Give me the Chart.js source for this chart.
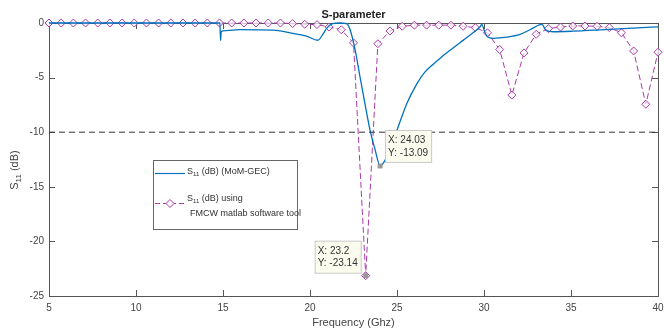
<!DOCTYPE html>
<html>
<head>
<meta charset="utf-8">
<script src="https://cdn.jsdelivr.net/npm/chart.js@4.4.1/dist/chart.umd.min.js"></script>
<style>
  html, body { margin: 0; padding: 0; background: #fff; }
  #wrap { width: 664px; height: 330px; position: relative; }
</style>
</head>
<body>
<div id="wrap"><canvas id="c" width="664" height="330"></canvas></div>
<script>
// Courbe MoM-GEC
const blueFreq = [5, 10, 14.82, 14.86, 14.9, 15.0, 16.0, 17.9, 18.85, 19.8, 20.45, 20.75, 21.0, 21.3, 21.7, 22.1, 22.3, 22.6, 22.87, 23.16, 23.45, 23.74, 24.03, 24.3, 24.6, 25.0, 25.56, 26.13, 26.6, 27.1, 27.5, 28.05, 28.62, 29.0, 29.4, 29.8, 29.87, 30.06, 30.2, 30.53, 31.3, 32.07, 32.64, 33.33, 33.55, 33.97, 35.1, 36.95, 38.85, 40];
const blueS11 = [0, 0, 0, -1.6, -0.8, -0.72, -0.6, -0.65, -0.9, -1.2, -1.58, -1.0, -0.4, -0.05, 0, -0.05, -0.6, -2.5, -4.9, -7.4, -9.8, -11.6, -13.09, -12.6, -11.4, -9.8, -7.4, -5.6, -4.5, -3.75, -3.2, -2.5, -1.8, -1.35, -0.85, -0.3, -0.12, -0.9, -1.25, -1.4, -1.3, -1.05, -0.62, -0.12, -0.65, -0.8, -0.75, -0.6, -0.45, -0.35];

// Courbe FMCW (marqueurs losanges)
const fmcwFreq = [5, 5.7, 6.4, 7.1, 7.8, 8.5, 9.2, 9.9, 10.6, 11.3, 12, 12.7, 13.4, 14.1, 14.8, 15.5, 16.2, 16.9, 17.6, 18.3, 19, 19.7, 20.4, 21.1, 21.8, 22.5, 23.2, 23.9, 24.6, 25.3, 26, 26.7, 27.4, 28.1, 28.8, 29.5, 30.2, 30.9, 31.6, 32.3, 33, 33.7, 34.4, 35.1, 35.8, 36.5, 37.2, 37.9, 38.6, 39.3, 40];
const fmcwS11 = [0, 0, 0, 0, 0, 0, 0, 0, 0, 0, 0, 0, 0, 0, 0, 0, 0, 0, 0, 0, -0.05, -0.12, -0.15, -0.37, -0.62, -1.82, -23.14, -1.9, -0.73, -0.3, -0.2, -0.2, -0.2, -0.2, -0.3, -0.42, -0.9, -2.43, -6.6, -2.74, -1.03, -0.51, -0.37, -0.27, -0.27, -0.3, -0.42, -0.9, -2.56, -7.44, -2.68];

// Seuil -10 dB
const thrFreq = [5, 40];
const thrS11 = [-10, -10];

// Axes
const xTicks = [5, 10, 15, 20, 25, 30, 35, 40];
const yTicks = [-25, -20, -15, -10, -5, 0];

// Datatips : [x, y]
const tips = [[24.03, -13.09], [23.2, -23.14]];

const BLUE = '#0072BD';
const MAG = '#AA3AAA';
const FONT = '"Liberation Sans", Arial, Helvetica, sans-serif';
const AXC = '#444';

function pts(xs, ys) { return xs.map((x, i) => ({ x: x, y: ys[i] })); }

function diamond(ctx, x, y, r) {
  ctx.beginPath();
  ctx.moveTo(x, y - r); ctx.lineTo(x + r, y); ctx.lineTo(x, y + r); ctx.lineTo(x - r, y);
  ctx.closePath();
}

function subText(ctx, x, y, parts, size) {
  // parts: [[texte, estIndice]]
  let cx = x;
  parts.forEach(p => {
    if (p[1]) {
      ctx.font = Math.round(size * 0.7) + 'px ' + FONT;
      ctx.fillText(p[0], cx, y + size * 0.3);
    } else {
      ctx.font = size + 'px ' + FONT;
      ctx.fillText(p[0], cx, y);
    }
    cx += ctx.measureText(p[0]).width;
  });
  return cx - x;
}

const framePlugin = {
  id: 'frame',
  beforeDatasetsDraw(chart) {
    const { ctx, chartArea: a, scales: { x, y } } = chart;
    ctx.save();
    ctx.strokeStyle = '#555';
    ctx.lineWidth = 1;
    ctx.strokeRect(Math.round(a.left) + 0.5, Math.round(a.top) + 0.5, Math.round(a.right - a.left), Math.round(a.bottom - a.top));
    ctx.beginPath();
    xTicks.forEach(v => {
      const px = Math.round(x.getPixelForValue(v)) + 0.5;
      ctx.moveTo(px, a.bottom); ctx.lineTo(px, a.bottom - 6);
      ctx.moveTo(px, a.top); ctx.lineTo(px, a.top + 6);
    });
    yTicks.forEach(v => {
      const py = Math.round(y.getPixelForValue(v)) + 0.5;
      ctx.moveTo(a.left, py); ctx.lineTo(a.left + 6, py);
      ctx.moveTo(a.right, py); ctx.lineTo(a.right - 6, py);
    });
    ctx.stroke();
    ctx.restore();
  },
  afterDraw(chart) {
    const { ctx, chartArea: a, scales: { x, y } } = chart;
    ctx.save();
    // titre
    ctx.fillStyle = '#222';
    ctx.font = 'bold 11px ' + FONT;
    ctx.textAlign = 'center';
    ctx.textBaseline = 'middle';
    ctx.fillText('S-parameter', (a.left + a.right) / 2, 15);

    // titre axe Y avec indice
    ctx.save();
    ctx.translate(15, 170);
    ctx.rotate(-Math.PI / 2);
    ctx.textAlign = 'left';
    ctx.fillStyle = AXC;
    ctx.font = '11px ' + FONT;
    const w1 = ctx.measureText('S').width;
    ctx.font = '8px ' + FONT;
    const w2 = ctx.measureText('11').width;
    ctx.font = '11px ' + FONT;
    const w3 = ctx.measureText(' (dB)').width;
    subText(ctx, -(w1 + w2 + w3) / 2, 0, [['S', false], ['11', true], [' (dB)', false]], 11);
    ctx.restore();

    // légende
    ctx.fillStyle = '#fff';
    ctx.fillRect(153.5, 160.5, 144, 69);
    ctx.strokeStyle = '#666';
    ctx.lineWidth = 1;
    ctx.strokeRect(153.5, 160.5, 144, 69);
    ctx.strokeStyle = BLUE;
    ctx.lineWidth = 1.2;
    ctx.beginPath(); ctx.moveTo(155, 173.5); ctx.lineTo(185, 173.5); ctx.stroke();
    ctx.strokeStyle = MAG;
    ctx.lineWidth = 1;
    ctx.setLineDash([5, 3]);
    ctx.beginPath(); ctx.moveTo(155, 203.5); ctx.lineTo(185, 203.5); ctx.stroke();
    ctx.setLineDash([]);
    diamond(ctx, 170, 203.5, 4);
    ctx.fillStyle = '#fff'; ctx.fill(); ctx.stroke();
    ctx.fillStyle = '#333';
    ctx.textAlign = 'left';
    ctx.textBaseline = 'middle';
    subText(ctx, 187, 172, [['S', false], ['11', true], [' (dB) (MoM-GEC)', false]], 9);
    subText(ctx, 187, 199, [['S', false], ['11', true], [' (dB) using', false]], 9);
    ctx.font = '9px ' + FONT;
    ctx.fillText('FMCW matlab software tool', 190, 214);

    // datatips
    tips.forEach((t, i) => {
      const mx = x.getPixelForValue(t[0]);
      const my = y.getPixelForValue(t[1]);
      const bw = 46, bh = 32;
      const bx = i === 0 ? mx + 5 : mx - 5 - bw;
      const by = i === 0 ? my - 4 - bh : my - 3 - bh;
      ctx.fillStyle = '#fcfcee';
      ctx.fillRect(bx + 0.5, by + 0.5, bw, bh);
      ctx.strokeStyle = '#c8c8c8';
      ctx.lineWidth = 1;
      ctx.strokeRect(bx + 0.5, by + 0.5, bw, bh);
      ctx.fillStyle = '#333';
      ctx.font = '10px ' + FONT;
      ctx.fillText('X: ' + t[0], bx + 3, by + 10.5);
      ctx.fillText('Y: ' + t[1], bx + 3, by + 23);
      ctx.fillStyle = '#999';
      ctx.fillRect(mx - 2.5, my - 2.5, 5, 5);
    });
    ctx.restore();
  }
};

new Chart(document.getElementById('c'), {
  type: 'line',
  data: {
    datasets: [
      {
        label: 'thr',
        data: pts(thrFreq, thrS11),
        borderColor: '#333',
        borderWidth: 1,
        borderDash: [6, 4],
        pointRadius: 0,
        fill: false
      },
      {
        label: 'MoM-GEC',
        data: pts(blueFreq, blueS11),
        borderColor: BLUE,
        borderWidth: 1.3,
        pointRadius: 0,
        cubicInterpolationMode: 'monotone',
        fill: false,
        clip: 5
      },
      {
        label: 'FMCW',
        data: pts(fmcwFreq, fmcwS11),
        borderColor: MAG,
        borderWidth: 1,
        borderDash: [6, 3],
        pointStyle: 'rectRot',
        pointRadius: 4,
        pointBorderWidth: 1,
        pointBorderColor: MAG,
        pointBackgroundColor: 'rgba(255,255,255,0.7)',
        tension: 0,
        fill: false,
        clip: 6
      }
    ]
  },
  options: {
    responsive: false,
    animation: false,
    events: [],
    layout: { padding: { top: 23, right: 6, left: 0, bottom: 0 } },
    plugins: { legend: { display: false }, tooltip: { enabled: false }, title: { display: false } },
    scales: {
      x: {
        type: 'linear',
        min: 5, max: 40,
        afterFit: s => { s.height = 34; s.paddingLeft = 0; s.paddingRight = 0; },
        afterBuildTicks: s => { s.ticks = xTicks.map(v => ({ value: v })); },
        grid: { display: false, drawTicks: false },
        border: { display: false },
        ticks: { color: AXC, font: { family: FONT, size: 10 }, padding: 6, maxRotation: 0 },
        title: { display: true, text: 'Frequency (Ghz)', color: AXC, font: { family: FONT, size: 11 }, padding: { top: 0, bottom: 0 } }
      },
      y: {
        type: 'linear',
        min: -25, max: 0,
        afterFit: s => { s.width = 49; s.paddingTop = 0; s.paddingBottom = 0; },
        afterBuildTicks: s => { s.ticks = yTicks.map(v => ({ value: v })); },
        grid: { display: false, drawTicks: false },
        border: { display: false },
        ticks: { color: AXC, font: { family: FONT, size: 10 }, padding: 5 }
      }
    }
  },
  plugins: [framePlugin]
});
</script>
</body>
</html>
